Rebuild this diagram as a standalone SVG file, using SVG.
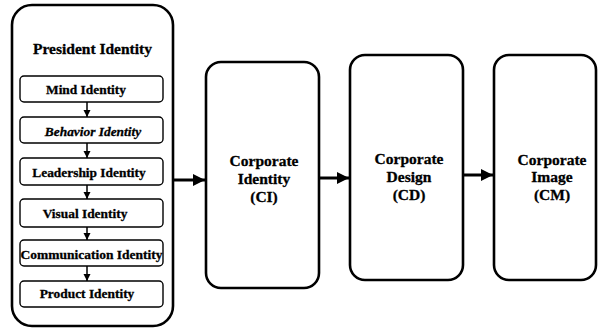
<svg xmlns="http://www.w3.org/2000/svg" width="598" height="332" viewBox="0 0 598 332">
  <style>
    .big { fill: #fff; stroke: #000; stroke-width: 2.6; }
    .small { fill: #fff; stroke: #000; stroke-width: 1.4; }
    .t { font-family: "Liberation Serif", "Times New Roman", serif; font-weight: bold; fill: #000; stroke: #000; stroke-width: 0.3; text-anchor: middle; }
    .t15 { font-size: 15.5px; }
    .t13 { font-size: 13.4px; }
    .link { stroke: #000; fill: none; }
  </style>
  <defs>
    <marker id="ah" viewBox="0 0 10 10" refX="10" refY="5" markerWidth="4" markerHeight="4" orient="auto">
      <path d="M0,0 L10,5 L0,10 z" fill="#000"/>
    </marker>
    <marker id="ahs" viewBox="0 0 10 10" refX="10" refY="5" markerWidth="5" markerHeight="5" orient="auto">
      <path d="M0,0 L10,5 L0,10 z" fill="#000"/>
    </marker>
  </defs>

  <rect width="598" height="332" fill="#fff"/>

  <g id="president-identity">
    <rect class="big" x="12" y="5" width="161" height="321" rx="20" ry="20"/>
    <text class="t" x="92.5" y="54" font-size="15.5">President Identity</text>
  </g>

  <g id="mind-identity">
    <rect class="small" x="20" y="76" width="143" height="26" rx="4"/>
    <text class="t t13" x="86" y="94">Mind Identity</text>
  </g>
  <g id="behavior-identity">
    <rect class="small" x="20" y="117" width="143" height="26" rx="4"/>
    <text class="t t13" x="93" y="136" font-style="italic">Behavior Identity</text>
  </g>
  <g id="leadership-identity">
    <rect class="small" x="20" y="158" width="143" height="27" rx="4"/>
    <text class="t t13" x="89" y="177">Leadership Identity</text>
  </g>
  <g id="visual-identity">
    <rect class="small" x="20" y="199" width="143" height="28" rx="4"/>
    <text class="t t13" x="85" y="218">Visual Identity</text>
  </g>
  <g id="communication-identity">
    <rect class="small" x="20" y="240" width="143" height="26" rx="4"/>
    <text class="t t13" x="91.5" y="259" textLength="142" lengthAdjust="spacingAndGlyphs">Communication Identity</text>
  </g>
  <g id="product-identity">
    <rect class="small" x="20" y="281" width="143" height="26" rx="4"/>
    <text class="t t13" x="87" y="298">Product  Identity</text>
  </g>

  <g id="corporate-identity">
    <rect class="big" x="206" y="62" width="113" height="226" rx="15" ry="15"/>
    <text class="t t15" x="264" y="166">Corporate</text>
    <text class="t t15" x="264" y="184">Identity</text>
    <text class="t t15" x="264" y="202">(CI)</text>
  </g>
  <g id="corporate-design">
    <rect class="big" x="350" y="55" width="113" height="225" rx="15" ry="15"/>
    <text class="t t15" x="409" y="164">Corporate</text>
    <text class="t t15" x="409" y="182">Design</text>
    <text class="t t15" x="409" y="200">(CD)</text>
  </g>
  <g id="corporate-image">
    <rect class="big" x="494" y="55" width="102" height="225" rx="15" ry="15"/>
    <text class="t t15" x="552" y="165">Corporate</text>
    <text class="t t15" x="552" y="182">Image</text>
    <text class="t t15" x="552" y="200">(CM)</text>
  </g>

  <g id="connectors">
    <line class="link" stroke-width="1.5" x1="87" y1="102" x2="87" y2="117" marker-end="url(#ahs)"/>
    <line class="link" stroke-width="1.5" x1="87" y1="143" x2="87" y2="158" marker-end="url(#ahs)"/>
    <line class="link" stroke-width="1.5" x1="87" y1="185" x2="87" y2="199" marker-end="url(#ahs)"/>
    <line class="link" stroke-width="1.5" x1="87" y1="227" x2="87" y2="240" marker-end="url(#ahs)"/>
    <line class="link" stroke-width="1.5" x1="87" y1="266" x2="87" y2="281" marker-end="url(#ahs)"/>
    <line class="link" stroke-width="3" x1="173" y1="180" x2="205" y2="180" marker-end="url(#ah)"/>
    <line class="link" stroke-width="3" x1="319" y1="178" x2="349" y2="178" marker-end="url(#ah)"/>
    <line class="link" stroke-width="3" x1="463" y1="175" x2="493" y2="175" marker-end="url(#ah)"/>
  </g>
</svg>
